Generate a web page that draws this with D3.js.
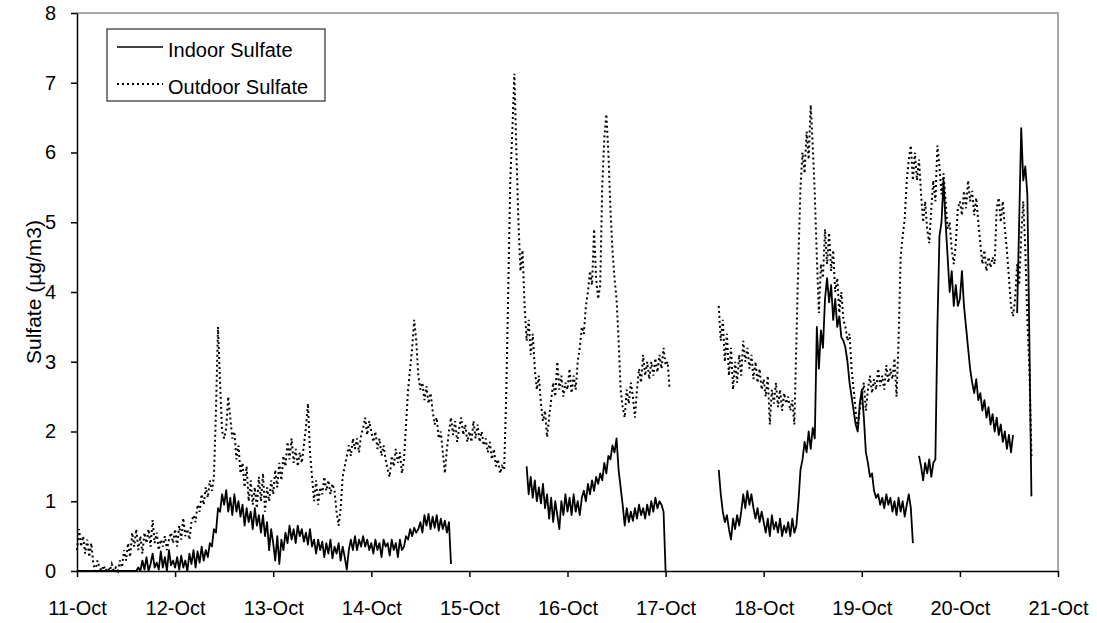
<!DOCTYPE html>
<html>
<head>
<meta charset="utf-8">
<script src="https://cdn.jsdelivr.net/npm/d3@7"></script>
<style>
  body { margin: 0; background: #fff; }
  svg text { font-family: "Liberation Sans", Arial, sans-serif; fill: #000; }
</style>
</head>
<body>
<div id="chart"></div>
<script>
// Half-hourly sulfate readings, 11-Oct to 21-Oct (48 slots per day, null = no data)
const startDay = new Date(2002, 9, 11);
const endDay = new Date(2002, 9, 21);
const stepMinutes = 30;
const yTicks = [0, 1, 2, 3, 4, 5, 6, 7, 8];
const seriesNames = ["Indoor Sulfate", "Outdoor Sulfate"];
const yTitle = "Sulfate (\u00b5g/m3)";

const indoor = [
  // 11-Oct
  0,0,0,0,0,0,0,0,0,0,0,0,0,0,0,0,0,0,0,0,0,0,0,0,0,0,0,0,0,0,
  0.05,0,0.15,0.02,0.2,0,0.1,0.25,0.05,0.12,0.02,0.28,0.05,0.2,0,0.3,0.08,0.15,
  // 12-Oct
  0.05,0.2,0.02,0.22,0.05,0.15,0,0.25,0.1,0.3,0.05,0.28,0.12,0.35,0.15,0.3,0.2,0.4,0.35,0.6,0.55,0.9,0.85,1.1,
  0.95,1.16,0.85,1.05,0.8,1.1,0.85,1.0,0.78,0.95,0.65,0.9,0.7,0.85,0.6,0.9,0.65,0.8,0.55,0.8,0.5,0.7,0.3,0.6,
  // 13-Oct
  0.4,0.15,0.5,0.1,0.45,0.3,0.55,0.4,0.65,0.45,0.6,0.4,0.65,0.5,0.6,0.42,0.55,0.38,0.6,0.35,0.45,0.25,0.45,0.3,
  0.42,0.2,0.4,0.25,0.45,0.18,0.35,0.25,0.4,0.15,0.35,0.2,0.02,0.3,0.45,0.3,0.5,0.3,0.45,0.35,0.5,0.35,0.45,0.3,
  // 14-Oct
  0.4,0.25,0.45,0.3,0.4,0.2,0.45,0.35,0.4,0.22,0.45,0.3,0.4,0.2,0.45,0.3,0.35,0.5,0.45,0.6,0.5,0.62,0.55,0.6,
  0.7,0.55,0.8,0.65,0.82,0.6,0.78,0.62,0.8,0.58,0.75,0.6,0.72,0.55,0.7,0.1,null,null,null,null,null,null,null,null,
  // 15-Oct
  null,null,null,null,null,null,null,null,null,null,null,null,null,null,null,null,null,null,null,null,null,null,null,null,
  null,null,null,null,1.5,1.1,1.35,1.05,1.3,1.0,1.2,0.97,1.25,0.9,1.1,0.75,1.05,0.7,1.0,0.8,0.6,1.0,0.8,1.1,
  // 16-Oct
  0.85,1.05,0.8,1.1,0.85,1.0,0.8,1.05,1.15,1.0,1.25,1.1,1.3,1.15,1.35,1.25,1.4,1.3,1.55,1.4,1.65,1.6,1.8,1.7,
  1.9,1.45,1.2,0.95,0.65,0.9,0.7,0.85,0.72,0.9,0.75,0.95,0.8,0.9,0.75,0.95,0.8,1.0,0.85,1.05,0.9,1.0,0.95,0.85,
  // 17-Oct
  0,null,null,null,null,null,null,null,null,null,null,null,null,null,null,null,null,null,null,null,null,null,null,null,
  null,null,1.45,1.1,0.85,0.7,0.8,0.6,0.45,0.75,0.6,0.8,0.65,0.85,1.1,0.9,1.15,0.95,1.1,0.9,0.75,0.9,0.7,0.85,
  // 18-Oct
  0.7,0.55,0.75,0.5,0.8,0.6,0.7,0.55,0.75,0.5,0.65,0.55,0.7,0.5,0.75,0.55,0.65,1.0,1.45,1.6,1.85,1.7,2.0,1.75,
  2.05,1.9,3.5,2.9,3.45,3.2,3.9,4.2,3.85,4.1,3.6,3.9,3.5,3.65,3.35,3.3,3.2,3.0,2.7,2.5,2.3,2.1,2.0,2.4,
  // 19-Oct
  2.6,2.2,1.7,1.55,1.35,1.4,1.15,1.05,1.1,0.95,1.05,0.9,1.1,0.95,1.05,0.85,1.0,0.8,1.05,0.85,1.0,0.78,0.95,1.1,
  0.9,0.4,null,null,1.65,1.5,1.3,1.55,1.4,1.6,1.35,1.55,1.6,3.5,4.8,5.0,5.6,5.0,4.5,4.0,4.3,3.8,4.1,3.8,
  // 20-Oct
  3.9,4.3,3.8,3.5,3.2,2.9,2.7,2.55,2.75,2.45,2.55,2.3,2.45,2.2,2.35,2.1,2.25,2.0,2.2,1.95,2.1,1.85,2.0,1.75,
  1.95,1.7,1.95,null,3.7,5.0,6.35,5.6,5.8,5.4,3.3,1.07,null,null,null,null,null,null,null,null,null,null,null,null
];

const outdoor = [
  // 11-Oct
  0.3,0.6,0.35,0.5,0.25,0.45,0.2,0.4,0.1,0,0.15,0.05,0,0.08,0,0.05,0,0.1,0,0.05,0,0.15,0.05,0.3,
  0.15,0.4,0.2,0.55,0.35,0.6,0.3,0.5,0.25,0.55,0.4,0.6,0.35,0.73,0.4,0.55,0.3,0.45,0.35,0.5,0.3,0.45,0.55,0.4,
  // 12-Oct
  0.6,0.35,0.65,0.45,0.76,0.5,0.6,0.45,0.7,0.8,0.7,0.95,0.85,1.1,0.95,1.2,1.05,1.3,1.15,1.35,2.3,3.5,2.7,2.0,
  1.9,2.05,2.5,2.2,1.9,2.0,1.6,1.8,1.4,1.55,1.2,1.5,1.0,1.3,0.95,1.2,0.9,1.35,1.0,1.4,0.85,1.2,1.0,1.3,
  // 13-Oct
  1.1,1.45,1.2,1.55,1.3,1.65,1.5,1.85,1.6,1.9,1.55,1.75,1.5,1.7,1.55,1.8,2.05,2.4,1.7,1.35,1.0,1.3,0.95,1.2,
  1.1,1.35,1.15,1.3,1.1,1.25,1.15,0.85,0.65,0.9,1.35,1.5,1.65,1.8,1.65,1.9,1.75,1.9,1.7,1.95,2.05,2.2,1.95,2.15,
  // 14-Oct
  2.0,1.85,2.0,1.75,1.9,1.65,1.8,1.6,1.45,1.35,1.65,1.5,1.75,1.55,1.7,1.4,1.6,2.1,2.6,2.9,3.2,3.6,3.3,2.8,
  2.6,2.7,2.45,2.65,2.4,2.55,2.3,2.1,2.2,1.9,2.0,1.7,1.4,1.75,2.0,2.2,1.95,2.15,1.85,2.05,2.2,1.95,2.1,1.85,
  // 15-Oct
  2.0,1.85,2.15,1.9,2.1,1.85,2.0,1.8,1.9,1.7,1.85,1.6,1.75,1.5,1.6,1.4,1.5,1.45,2.5,4.0,5.6,6.3,7.13,6.0,
  5.0,4.3,4.6,3.8,3.3,3.6,3.1,3.4,2.9,2.6,2.8,2.4,2.15,2.3,1.92,2.2,2.45,2.7,2.5,3.0,2.6,2.8,2.5,2.7,
  // 16-Oct
  2.6,2.9,2.55,2.8,2.6,3.0,3.2,3.5,3.4,3.8,4.0,4.3,4.1,4.9,4.2,3.9,4.1,5.5,6.2,6.55,6.0,5.2,4.6,4.2,
  3.9,3.3,2.6,2.35,2.2,2.6,2.4,2.7,2.5,2.2,2.6,2.9,2.7,3.1,2.8,3.0,2.75,3.0,2.8,3.05,2.85,3.1,2.9,3.2,
  // 17-Oct
  2.95,3.0,2.6,null,null,null,null,null,null,null,null,null,null,null,null,null,null,null,null,null,null,null,null,null,
  null,null,3.8,3.3,3.6,3.0,3.4,2.8,3.2,2.6,3.0,2.7,3.1,2.8,3.3,3.0,3.2,2.9,3.1,2.75,3.0,2.7,2.9,2.6,
  // 18-Oct
  2.75,2.5,2.8,2.1,2.6,2.4,2.7,2.35,2.6,2.3,2.55,2.4,2.5,2.3,2.45,2.1,3.3,4.5,5.5,6.0,5.7,6.3,5.9,6.68,
  6.1,5.4,4.5,3.7,4.4,4.2,4.9,4.4,4.85,4.3,4.6,4.0,4.2,3.7,4.0,3.6,3.5,3.3,3.4,2.9,2.6,2.3,2.05,2.3,
  // 19-Oct
  2.5,2.7,2.3,2.6,2.8,2.55,2.75,2.6,2.9,2.65,2.8,2.6,2.95,2.7,2.9,2.75,3.05,2.5,3.3,4.5,4.8,5.05,5.6,5.9,
  6.1,5.6,6.0,5.6,5.9,5.4,5.0,5.3,4.9,4.7,5.2,5.6,5.3,6.1,5.8,5.4,5.7,5.3,4.9,5.0,4.6,4.4,4.7,5.2,
  // 20-Oct
  5.3,5.1,5.45,5.2,5.6,5.3,5.45,5.1,5.35,5.0,4.7,4.4,4.6,4.3,4.5,4.35,4.5,4.4,5.2,5.35,5.0,5.3,4.9,4.6,
  4.2,3.8,3.65,3.9,4.4,4.1,4.8,5.3,4.6,3.6,2.9,1.65,null,null,null,null,null,null,null,null,null,null,null,null
];

const svgWidth = 1097;
const svgHeight = 623;
const margin = { top: 13, right: 39, bottom: 52, left: 77 };
const width = svgWidth - margin.left - margin.right;
const height = svgHeight - margin.top - margin.bottom;

// pair every reading with its time stamp
const toPoints = (values) => values.map((v, i) => ({ date: d3.timeMinute.offset(startDay, i * stepMinutes), value: v }));

const svg = d3
  .select("#chart")
  .append("svg")
  .attr("width", svgWidth)
  .attr("height", svgHeight);

svg.append("rect").attr("width", svgWidth).attr("height", svgHeight).attr("fill", "#fff");

const g = svg.append("g").attr("transform", `translate(${margin.left},${margin.top})`);

const x = d3.scaleTime().domain([startDay, endDay]).range([0, width]);
const y = d3.scaleLinear().domain([0, 8]).range([height, 0]);

// plot area frame (gray top and right edges)
g.append("path")
  .attr("d", `M0,0H${width}V${height}`)
  .attr("fill", "none")
  .attr("stroke", "#8c8c8c")
  .attr("stroke-width", 1.5);

// axes
const xAxis = d3
  .axisBottom(x)
  .ticks(d3.timeDay.every(1))
  .tickFormat(d3.timeFormat("%-d-%b"))
  .tickSize(6)
  .tickSizeOuter(0)
  .tickPadding(24);

const yAxis = d3.axisLeft(y).tickValues(yTicks).tickFormat(d3.format("d")).tickSize(6).tickSizeOuter(0).tickPadding(15);

const xAxisGroup = g.append("g").attr("transform", `translate(0,${height})`).call(xAxis);
const yAxisGroup = g.append("g").call(yAxis);

[xAxisGroup, yAxisGroup].forEach((ax) => {
  ax.selectAll("path, line").attr("stroke", "#000").attr("stroke-width", 1.5);
  ax.selectAll("text").style("font-size", "20px").attr("fill", "#000");
});

// y axis title
svg
  .append("text")
  .attr("transform", `translate(41,${margin.top + height / 2}) rotate(-90)`)
  .attr("text-anchor", "middle")
  .style("font-size", "21px")
  .text(yTitle);

// lines
const line = d3
  .line()
  .defined((d) => d.value != null)
  .x((d) => x(d.date))
  .y((d) => y(d.value));

g.append("path")
  .datum(toPoints(outdoor))
  .attr("class", "line-outdoor")
  .attr("fill", "none")
  .attr("stroke", "#000")
  .attr("stroke-width", 2)
  .attr("stroke-dasharray", "2,3")
  .attr("d", line);

g.append("path")
  .datum(toPoints(indoor))
  .attr("class", "line-indoor")
  .attr("fill", "none")
  .attr("stroke", "#000")
  .attr("stroke-width", 1.8)
  .attr("stroke-linejoin", "round")
  .attr("d", line);

// legend
const legend = svg.append("g").attr("class", "legend").attr("transform", "translate(107,29)");

legend.append("rect").attr("width", 218).attr("height", 72).attr("fill", "#fff").attr("stroke", "#000").attr("stroke-width", 1);

const legendRows = [
  { name: seriesNames[0], dash: null, y: 18 },
  { name: seriesNames[1], dash: "2,3", y: 55 }
];

legendRows.forEach((row) => {
  legend
    .append("line")
    .attr("x1", 10)
    .attr("x2", 56)
    .attr("y1", row.y)
    .attr("y2", row.y)
    .attr("stroke", "#000")
    .attr("stroke-width", row.dash ? 2 : 1.5)
    .attr("stroke-dasharray", row.dash);
  legend
    .append("text")
    .attr("x", 61)
    .attr("y", row.y + 10)
    .style("font-size", "20px")
    .text(row.name);
});
</script>
</body>
</html>
